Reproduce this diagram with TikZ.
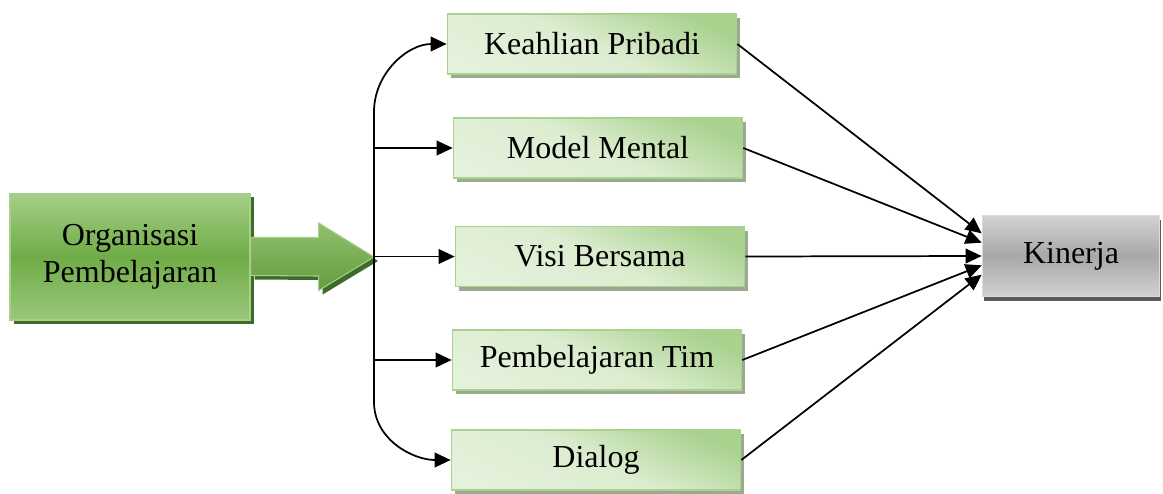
\documentclass[tikz,border=0pt]{standalone}
\usepackage{fontspec}
\setmainfont{Liberation Serif}
\usetikzlibrary{arrows.meta,positioning,calc,shadows}
\definecolor{FactorLight}{HTML}{E4F1DB}
\definecolor{FactorEdge}{HTML}{AAD28F}
\definecolor{FactorShadow}{HTML}{9AA990}
\definecolor{SourceGreen}{HTML}{6FAC46}
\definecolor{SourceLight}{HTML}{A6CF89}
\definecolor{SourceShadow}{HTML}{3E6B27}
\definecolor{ResultLight}{HTML}{D2D2D2}
\definecolor{ResultMid}{HTML}{A8A8A8}
\definecolor{ResultShadow}{HTML}{5A5A5A}

\begin{document}
\begin{tikzpicture}[x=0.75pt,y=0.75pt,
  boxtext/.style={font=\fontsize{24}{28}\selectfont,align=center,inner sep=0pt},
  factor/.style={boxtext,draw=FactorEdge,line width=1pt,minimum width=217pt,minimum height=45pt,
    top color=FactorEdge,bottom color=FactorLight,middle color=FactorLight!85!FactorEdge,shading angle=-25,
    drop shadow={shadow xshift=2.5pt,shadow yshift=-3pt,fill=FactorShadow,opacity=1}},
  source/.style={boxtext,draw=SourceLight,line width=1pt,minimum width=180pt,minimum height=95pt,
    top color=SourceLight,bottom color=SourceLight!80!SourceGreen,middle color=SourceGreen,
    drop shadow={shadow xshift=3pt,shadow yshift=-3pt,fill=SourceShadow,opacity=1}},
  result/.style={boxtext,draw=ResultLight!80!white,line width=1pt,minimum width=133pt,minimum height=61pt,
    top color=ResultLight,bottom color=ResultLight,middle color=ResultMid,
    drop shadow={shadow xshift=1pt,shadow yshift=-3.5pt,fill=ResultShadow,opacity=1}},
  bigarrow/.style={draw=SourceLight,line width=0.8pt,top color=SourceLight!60!SourceGreen,bottom color=SourceGreen!90!black,
    drop shadow={shadow xshift=3pt,shadow yshift=-3pt,fill=SourceShadow,opacity=1}},
  link/.style={-{Triangle[length=12pt,width=11pt]},draw=black,line width=1.3pt}
]
\useasboundingbox (0,0) rectangle (1163,-493);

\node[source] (org) at (130,-256.5) {Organisasi\\Pembelajaran};
\coordinate (hub) at (374,-257);
\filldraw[bigarrow] ($(org.east)+(0,19)$) -- ++(68,0) -- ++(0,14.5) -- (hub)
  -- ($(org.east)+(68,-34)$) -- ++(0,14.5) -- ($(org.east)+(0,-19)$) -- cycle;

\node[factor] (kp) at (592,-44) {Keahlian Pribadi};
\node[factor] (mm) at (598,-148) {Model Mental};
\node[factor] (vb) at (600,-256.5) {Visi Bersama};
\node[factor] (pt) at (597,-360) {Pembelajaran Tim};
\node[factor] (dl) at (596,-460) {Dialog};
\node[result] (kin) at (1071,-256) {Kinerja};

% spine from the big arrow
\draw[link] (hub) -- ++(0,145) to[out=90,in=180] (kp.west);
\draw[link] (hub) -- ++(0,-145) to[out=-90,in=180] (dl.west);
\draw[link] (hub |- mm.west) -- (mm.west);
\draw[link] (hub |- vb.west) -- (vb.west);
\draw[link] (hub |- pt.west) -- (pt.west);

% into the result
\draw[link] (kp.east) -- ([yshift=17pt]kin.west);
\draw[link] (mm.east) -- ([yshift=10pt]kin.west);
\draw[link] (vb.east) -- (kin.west);
\draw[link] (pt.east) -- ([yshift=-7pt]kin.west);
\draw[link] (dl.east) -- ([yshift=-14pt]kin.west);
\end{tikzpicture}
\end{document}
